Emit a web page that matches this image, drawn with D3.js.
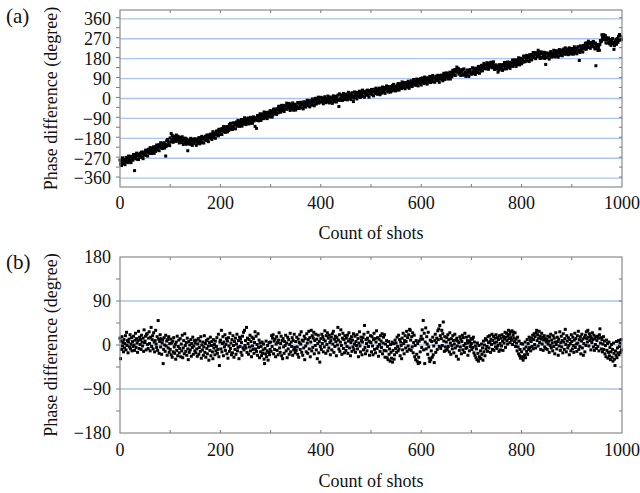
<!DOCTYPE html>
<html><head><meta charset="utf-8">
<script src="https://cdn.jsdelivr.net/npm/d3@7"></script>
<style>html,body{margin:0;padding:0;background:#fff;}svg{display:block;}</style>
</head><body>
<script>
// Panel (a): phase difference per shot (degree), shots 0..999
const phaseA = [
-278,-297,-285,-303,-280,-268,-289,-295,-275,-282,-299,-276,-266,-286,-281,-268,-290,-260,-272,-284,-274,-265,-290,-261,-276,-264,-279,-253,-269,-326,-253,-263,-271,-247,-275,-258,-252,-276,-253,-262,-247,-265,-255,-242,-266,-249,-272,-242,-256,-248,
-254,-233,-257,-243,-235,-260,-237,-229,-243,-248,-222,-238,-229,-249,-224,-229,-240,-218,-248,-223,-227,-239,-218,-210,-229,-233,-219,-210,-236,-210,-220,-200,-223,-215,-202,-226,-206,-215,-200,-224,-206,-260,-217,-191,-210,-185,-211,-197,-201,-213,
-178,-196,-158,-185,-167,-191,-198,-176,-182,-171,-188,-194,-165,-180,-192,-170,-188,-175,-201,-185,-175,-193,-181,-199,-173,-190,-208,-182,-187,-201,-179,-195,-207,-183,-192,-236,-200,-203,-188,-207,-192,-180,-200,-186,-212,-189,-197,-184,-203,-182,
-195,-187,-212,-183,-198,-187,-202,-177,-192,-205,-177,-188,-196,-171,-200,-183,-177,-201,-177,-186,-171,-189,-179,-165,-189,-172,-195,-165,-178,-170,-161,-180,-168,-185,-162,-150,-171,-177,-156,-163,-180,-157,-147,-166,-161,-147,-169,-139,-150,-162,
-160,-146,-137,-163,-137,-147,-127,-150,-142,-129,-153,-133,-142,-127,-151,-133,-126,-144,-118,-137,-112,-138,-124,-128,-140,-131,-110,-134,-120,-112,-137,-114,-106,-120,-125,-99,-115,-106,-126,-101,-106,-117,-95,-125,-100,-104,-116,-95,-87,-106,
-101,-118,-92,-96,-111,-88,-104,-115,-92,-100,-85,-108,-111,-94,-112,-96,-83,-102,-87,-126,-88,-95,-135,-99,-77,-84,-101,-77,-88,-69,-92,-99,-76,-81,-70,-86,-91,-61,-75,-87,-63,-80,-66,-91,-74,-62,-79,-66,-83,-55,
-65,-71,-56,-84,-59,-74,-48,-60,-68,-48,-61,-50,-72,-46,-50,-65,-35,-58,-48,-36,-62,-48,-31,-55,-38,-48,-31,-59,-32,-39,-47,-33,-21,-49,-26,-38,-42,-22,-32,-54,-36,-28,-48,-42,-20,-31,-53,-35,-46,-26,
-52,-38,-33,-45,-18,-41,-20,-45,-25,-35,-17,-23,-43,-29,-23,-47,-15,-35,-23,-16,-39,-18,-25,-8,-32,-26,-10,-16,-38,-11,-17,-30,-23,-2,-9,-28,-14,-33,-8,1,-22,-25,0,-14,-6,6,-21,-8,-16,5,
5,-16,3,-10,-1,-24,2,-12,8,-4,-19,0,-16,-13,11,-4,4,-20,-9,7,-16,-1,3,-22,-5,12,-15,4,-9,10,-1,-16,9,-3,15,-7,-36,21,-8,-1,16,6,12,-9,-2,23,5,17,-5,13,
20,0,12,-6,16,28,6,0,20,12,-5,17,26,7,11,-14,1,30,19,6,15,24,-2,28,12,23,8,33,18,5,32,22,13,38,9,25,31,6,30,20,34,16,25,38,14,30,6,36,22,29,
21,41,17,30,38,12,35,42,27,22,47,31,39,19,43,37,26,47,17,41,37,24,44,52,32,28,41,50,23,48,38,57,34,41,54,29,48,39,53,29,46,53,34,59,40,64,38,51,47,34,
55,38,61,50,68,45,38,61,55,67,50,45,75,60,49,72,55,68,44,60,72,55,68,51,78,63,46,73,70,56,80,64,54,78,71,86,64,62,78,60,75,88,68,83,57,81,73,87,69,90,
61,83,93,73,78,90,67,97,85,73,82,90,65,94,79,90,74,100,84,72,99,88,80,104,76,92,97,73,96,87,101,82,92,105,81,97,73,103,89,97,106,86,98,80,103,114,92,86,106,99,
116,100,109,88,113,108,97,119,88,113,109,98,119,128,109,106,120,130,104,131,121,142,119,125,136,110,128,117,130,104,120,126,106,131,110,134,106,119,113,100,108,129,105,118,126,100,123,131,116,111,
115,110,139,125,113,137,120,133,109,125,137,120,134,117,145,130,114,141,138,125,150,135,125,150,143,159,137,135,152,134,150,162,143,157,132,155,148,161,143,164,156,139,162,150,166,140,131,151,143,152,
139,133,147,119,143,128,153,141,133,152,139,150,127,153,149,133,163,139,149,161,134,148,165,141,157,147,164,136,162,155,147,161,174,145,169,158,154,175,167,145,164,173,153,161,184,174,152,171,161,182,
157,171,177,164,192,169,190,166,186,177,195,189,170,184,190,167,198,178,191,198,174,197,190,208,184,191,207,201,180,207,201,189,197,218,210,189,201,181,204,211,187,183,207,191,198,209,181,193,154,205,
205,185,204,192,201,178,205,192,212,201,187,206,191,194,218,203,212,188,200,216,194,208,213,187,205,221,195,213,201,219,209,193,218,206,224,201,214,229,200,207,224,213,220,198,205,229,212,224,201,219,
226,206,218,200,223,234,213,206,227,219,202,224,234,214,219,172,208,238,227,215,226,235,210,240,226,238,223,250,235,223,251,241,233,259,230,246,252,227,250,240,254,236,245,258,233,249,224,251,148,239,
227,244,217,228,239,218,245,262,257,259,288,275,286,266,288,280,265,284,251,273,266,251,269,274,253,247,260,267,240,264,253,271,247,253,222,239,260,252,268,245,264,271,254,281,263,289,265,280,277,266
];
// Panel (b): phase difference per shot (degree), shots 0..999
const phaseB = [
14,-28,8,-9,17,-2,5,-14,11,-6,3,19,-10,26,-1,9,-16,6,12,-4,21,-8,2,15,-12,7,-3,18,0,-11,10,24,-5,13,4,-15,9,28,-7,16,1,11,-9,20,6,-2,14,-13,31,5,
8,18,-10,22,23,1,-7,14,27,3,-12,16,36,-3,11,19,-8,25,6,-14,9,30,2,-5,17,-11,50,12,-17,7,21,-4,13,-19,4,10,-38,-9,15,0,-13,20,-2,8,-21,11,-6,17,-15,3,
-9,12,-20,4,-25,8,-14,15,-4,-17,1,-29,6,-11,18,-22,-3,10,-16,-7,13,-24,2,-12,20,-26,-6,9,-18,23,-1,-13,5,-21,14,-8,-30,7,-15,0,-10,11,-23,3,-5,16,-19,-2,9,-12,
4,-16,10,-8,-23,2,13,-19,-5,8,-13,17,-27,0,-10,6,-21,-4,19,-15,3,-25,9,-7,-18,12,-2,-31,5,-11,16,-22,-1,7,-14,-28,11,-6,1,-20,8,-12,-3,15,-17,-9,22,-24,-42,6,
10,-8,30,-14,3,17,-22,6,-4,21,-11,1,13,-18,8,-27,15,-2,-13,24,-7,4,-20,11,-16,19,-1,-25,7,-9,14,-19,2,22,-12,-5,9,-28,16,-3,12,-15,5,-21,18,-6,26,-10,30,-1,
9,-6,36,-15,14,3,-19,11,-4,20,-12,7,-24,16,-2,-9,13,-17,5,27,-8,18,-13,1,-21,23,-5,10,-26,4,-14,-3,-22,6,-17,-10,2,-29,-38,-7,-18,8,-24,-12,-1,-31,-15,5,-20,-9,
6,-13,19,-3,14,21,-18,8,-9,12,-24,2,17,-11,5,-20,10,25,-6,-15,3,18,-22,9,-28,13,-4,-17,7,-1,20,-12,4,-26,16,-8,11,-19,1,24,-14,6,-3,15,-21,9,-10,22,-5,-16,
7,-11,16,-4,-19,12,-25,5,21,-9,2,27,-15,10,-21,8,-6,18,-30,13,-2,-14,23,4,-17,11,28,-8,15,-24,6,30,-12,19,-5,14,26,-18,9,-1,22,-10,12,-28,3,20,-16,7,-35,-3,
13,-9,22,3,17,-14,11,-4,29,8,-17,19,1,25,-12,14,-6,20,5,-20,9,16,-10,23,2,28,-15,12,-3,18,7,-22,15,0,36,10,-8,21,-13,6,31,-1,-19,14,24,-7,11,-16,19,4,
-11,14,-3,20,-17,8,25,-6,12,-22,5,17,-13,10,-4,23,-9,2,18,-15,7,-1,21,-8,13,-24,4,27,-2,-14,16,9,-20,6,15,-10,22,40,-5,-18,11,3,-12,14,26,-3,8,-21,6,19,
5,-14,17,-2,-20,11,24,-9,13,-16,6,29,-7,15,-3,-23,12,1,-13,19,8,-5,23,-18,4,16,-11,21,-25,2,-12,9,-26,-3,-30,7,-19,-8,-33,1,-15,-27,6,-35,-11,3,-29,-20,10,-7,
4,-15,16,-3,-12,20,-8,11,-22,6,-1,-28,14,-10,24,3,-18,9,19,-6,7,28,-13,15,-2,21,-9,32,30,10,-11,17,-4,25,-16,5,20,-24,-1,-30,9,-19,-33,3,-38,-25,8,-36,-14,12,
18,-5,31,12,50,-10,24,-38,6,35,-8,17,2,-19,26,-4,-27,-34,10,-30,-12,7,-25,16,-20,-2,-36,9,22,-15,5,14,-9,29,11,33,-3,40,19,-7,13,30,-1,23,47,8,-13,17,-4,-11,
6,15,-9,21,-3,11,-14,25,4,-19,13,-1,-8,19,9,-16,2,22,-6,10,-23,14,-2,8,-29,5,-11,17,-4,12,-18,7,20,-10,15,-1,-15,24,3,-7,16,-5,9,-21,4,18,-12,8,-3,13,
3,-9,12,-5,16,-16,6,-21,-2,-26,-8,-30,4,-17,-33,-1,-24,-28,-12,-27,2,-19,-6,-31,8,-14,0,-22,13,-8,10,-3,-13,17,5,-6,19,7,-15,12,1,22,-9,9,18,-11,4,14,-4,21,
6,-7,15,-1,11,-13,19,3,-10,14,-2,21,8,-11,17,4,12,26,-5,16,24,9,2,19,30,13,22,5,27,15,10,29,1,20,26,14,7,25,-3,12,4,-12,16,-4,-18,8,-22,-9,-27,3,
-14,-24,2,-31,-25,-8,-20,6,-26,-4,-13,11,-19,3,-9,16,-5,10,-12,7,14,-3,20,-8,11,23,1,17,-6,25,30,9,21,-2,14,28,5,18,-9,12,24,2,16,-11,10,19,-4,13,-7,6,
11,-9,18,2,8,-15,16,-1,22,-6,10,4,-12,19,-3,14,-18,6,25,1,-8,16,7,-21,12,-2,27,-11,5,18,-4,9,-16,23,6,-9,13,32,1,-14,19,8,-6,15,-1,-20,11,3,-12,21,
7,-8,16,-1,-15,10,24,-5,13,2,-13,19,4,28,-9,11,-3,17,-18,8,22,-6,12,-21,3,15,-14,20,-1,27,13,6,30,16,-2,23,9,18,-10,14,5,25,11,-4,20,-11,13,1,17,-7,
9,18,-3,14,-12,21,33,4,15,-8,11,-14,2,17,-9,8,-18,-1,-24,10,-11,3,-27,-15,6,-22,-5,-30,-14,1,-25,-9,-33,4,-17,-29,-42,-12,-21,7,-26,-6,-16,9,-20,-3,4,-15,11,-10
];
const xTicks = [0, 200, 400, 600, 800, 1000];
const yTicksA = [360, 270, 180, 90, 0, -90, -180, -270, -360];
const yTicksB = [180, 90, 0, -90, -180];
const xLabel = "Count of shots";
const yLabel = "Phase difference (degree)";

const W = 640, H = 493;
const svg = d3.select("body").append("svg").attr("width", W).attr("height", H)
  .style("font-family", "'Liberation Serif','Times New Roman',serif");

function fmt(v){ return v < 0 ? "\u2212" + Math.abs(v) : String(v); }

function panel(cfg){
  const {data, yDomain, yTicks, minorStep, top, bottom, tag, tagY, tickBase, xLabelY} = cfg;
  const left = 120, right = 622;
  const x = d3.scaleLinear().domain([0, 1000]).range([left, right]);
  const y = d3.scaleLinear().domain(yDomain).range([bottom, top]);
  const g = svg.append("g");
  g.append("g").selectAll("line").data(yTicks.filter(t => t > yDomain[0] && t < yDomain[1]))
    .join("line").attr("x1", left).attr("x2", right)
    .attr("y1", d => y(d)).attr("y2", d => y(d))
    .attr("stroke", "#a9c4ee").attr("stroke-width", 1.3);
  g.append("g").selectAll("rect").data(data.map((v, i) => [i, v]))
    .join("rect").attr("x", d => x(d[0]) - 1.5).attr("y", d => y(d[1]) - 1.5)
    .attr("width", 3).attr("height", 3).attr("fill", "#000");
  const minorY = d3.range(yDomain[0], yDomain[1] + 0.001, minorStep).filter(t => t > yDomain[0] && t < yDomain[1]);
  const xMinor = d3.range(100, 1000, 100);
  const tk = g.append("g").attr("stroke", "#777").attr("stroke-width", 1);
  minorY.forEach(t => {
    tk.append("line").attr("x1", left - 4).attr("x2", left).attr("y1", y(t)).attr("y2", y(t));
    tk.append("line").attr("x1", right - 3).attr("x2", right).attr("y1", y(t)).attr("y2", y(t));
  });
  xMinor.forEach(t => {
    tk.append("line").attr("x1", x(t)).attr("x2", x(t)).attr("y1", top).attr("y2", top + 3);
    tk.append("line").attr("x1", x(t)).attr("x2", x(t)).attr("y1", bottom).attr("y2", bottom - 3);
  });
  g.append("rect").attr("x", left).attr("y", top).attr("width", right - left).attr("height", bottom - top)
    .attr("fill", "none").attr("stroke", "#8a8a8a").attr("stroke-width", 1.2);
  g.append("g").selectAll("text").data(yTicks).join("text")
    .attr("x", 111).attr("y", d => y(d)).attr("dy", "0.35em")
    .attr("text-anchor", "end").attr("font-size", 18).attr("fill", "#111").text(fmt);
  g.append("g").selectAll("text").data(xTicks).join("text")
    .attr("x", d => x(d)).attr("y", tickBase)
    .attr("text-anchor", "middle").attr("font-size", 18).attr("fill", "#111").text(d => d);
  g.append("text").attr("x", (left + right) / 2).attr("y", xLabelY)
    .attr("text-anchor", "middle").attr("font-size", 18).attr("fill", "#111").text(xLabel);
  g.append("text").attr("transform", `translate(57,${(top + bottom) / 2}) rotate(-90)`)
    .attr("text-anchor", "middle").attr("font-size", 18).attr("fill", "#111").text(yLabel);
  g.append("text").attr("x", 6).attr("y", tagY).attr("font-size", 21).attr("fill", "#111").text(tag);
}

panel({data: phaseA, yDomain: [-400, 400], yTicks: yTicksA, minorStep: 45, top: 10, bottom: 187,
  tag: "(a)", tagY: 23, tickBase: 209, xLabelY: 239});
panel({data: phaseB, yDomain: [-180, 180], yTicks: yTicksB, minorStep: 45, top: 257, bottom: 433,
  tag: "(b)", tagY: 269, tickBase: 456, xLabelY: 487});
</script>
</body></html>
